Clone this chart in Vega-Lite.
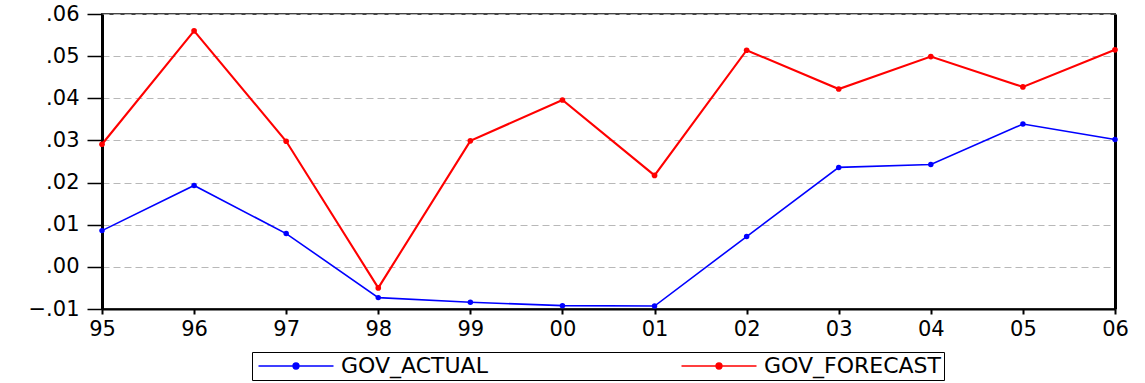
{
  "$schema": "https://vega.github.io/schema/vega-lite/v6.json",
  "autosize": {"type": "none"},
  "padding": {"left": 102, "top": 14, "right": 30, "bottom": 74},
  "width": 1013,
  "height": 295,
  "background": "white",
  "config": {
    "view": {"stroke": "#444444", "strokeWidth": 2},
    "axis": {"labelFont": "DejaVu Sans", "labelFontSize": 21, "labelColor": "#000000", "tickColor": "#000000", "domainColor": "#000000"},
    "legend": {"labelFont": "DejaVu Sans", "labelFontSize": 22, "labelColor": "#000000", "labelLimit": 500}
  },
  "data": {
    "values": [
      {"yr": "95", "series": "GOV_ACTUAL", "v": 0.0086},
      {"yr": "96", "series": "GOV_ACTUAL", "v": 0.0193},
      {"yr": "97", "series": "GOV_ACTUAL", "v": 0.0079},
      {"yr": "98", "series": "GOV_ACTUAL", "v": -0.0073},
      {"yr": "99", "series": "GOV_ACTUAL", "v": -0.0084},
      {"yr": "00", "series": "GOV_ACTUAL", "v": -0.0092},
      {"yr": "01", "series": "GOV_ACTUAL", "v": -0.0093},
      {"yr": "02", "series": "GOV_ACTUAL", "v": 0.0072},
      {"yr": "03", "series": "GOV_ACTUAL", "v": 0.0236},
      {"yr": "04", "series": "GOV_ACTUAL", "v": 0.0243},
      {"yr": "05", "series": "GOV_ACTUAL", "v": 0.0339},
      {"yr": "06", "series": "GOV_ACTUAL", "v": 0.0302},
      {"yr": "95", "series": "GOV_FORECAST", "v": 0.0291},
      {"yr": "96", "series": "GOV_FORECAST", "v": 0.0560},
      {"yr": "97", "series": "GOV_FORECAST", "v": 0.0298},
      {"yr": "98", "series": "GOV_FORECAST", "v": -0.0050},
      {"yr": "99", "series": "GOV_FORECAST", "v": 0.0299},
      {"yr": "00", "series": "GOV_FORECAST", "v": 0.0396},
      {"yr": "01", "series": "GOV_FORECAST", "v": 0.0217},
      {"yr": "02", "series": "GOV_FORECAST", "v": 0.0514},
      {"yr": "03", "series": "GOV_FORECAST", "v": 0.0422},
      {"yr": "04", "series": "GOV_FORECAST", "v": 0.0499},
      {"yr": "05", "series": "GOV_FORECAST", "v": 0.0427},
      {"yr": "06", "series": "GOV_FORECAST", "v": 0.0515}
    ]
  },
  "encoding": {
    "x": {
      "field": "yr", "type": "ordinal",
      "sort": ["95","96","97","98","99","00","01","02","03","04","05","06"],
      "scale": {"type": "point", "padding": 0},
      "axis": {"title": null, "labelAngle": 0, "domainWidth": 2, "tickSize": 5, "tickWidth": 2, "labelPadding": 4, "grid": false}
    },
    "color": {
      "field": "series", "type": "nominal",
      "scale": {"domain": ["GOV_ACTUAL", "GOV_FORECAST"], "range": ["#0000ff", "#ff0000"]},
      "legend": {
        "title": null,
        "orient": "none",
        "direction": "horizontal",
        "legendX": 150,
        "legendY": 338,
        "strokeColor": "#000000",
        "padding": 3,
        "symbolType": "M-5,0H5M0.4,0A0.4,0.4,0,1,1,-0.4,0A0.4,0.4,0,1,1,0.4,0Z",
        "symbolSize": 225,
        "symbolOffset": 30,
        "symbolStrokeWidth": 1.3,
        "labelOffset": 34,
        "columnPadding": 190,
        "encode": {"symbols": {"update": {"fill": {"signal": "scale('color', datum.value)"}, "stroke": {"signal": "scale('color', datum.value)"}}}}
      }
    }
  },
  "layer": [
    {
      "transform": [{"filter": "datum.series === 'GOV_ACTUAL'"}],
      "mark": {"type": "line", "strokeWidth": 1.6, "point": {"filled": true, "size": 30}},
      "encoding": {
        "y": {
          "field": "v", "type": "quantitative",
          "scale": {"domain": [-0.01, 0.06], "nice": false, "zero": false},
          "axis": {
            "title": null, "orient": "left", "values": [-0.01, 0, 0.01, 0.02, 0.03, 0.04, 0.05, 0.06],
            "labelExpr": "replace(format(datum.value, '.2f'), '0.', '.')",
            "domainWidth": 3, "tickSize": 15, "tickWidth": 1.5, "labelPadding": 8,
            "grid": true, "gridColor": "#b8b8b8", "gridDash": [7, 4], "gridWidth": 1
          }
        }
      }
    },
    {
      "transform": [{"filter": "datum.series === 'GOV_FORECAST'"}],
      "mark": {"type": "line", "strokeWidth": 2.1, "point": {"filled": true, "size": 32}},
      "encoding": {
        "y": {
          "field": "v", "type": "quantitative",
          "axis": {"title": null, "orient": "right", "labels": false, "ticks": false, "grid": false, "domainWidth": 3}
        }
      }
    }
  ],
  "resolve": {"axis": {"y": "independent"}}
}
